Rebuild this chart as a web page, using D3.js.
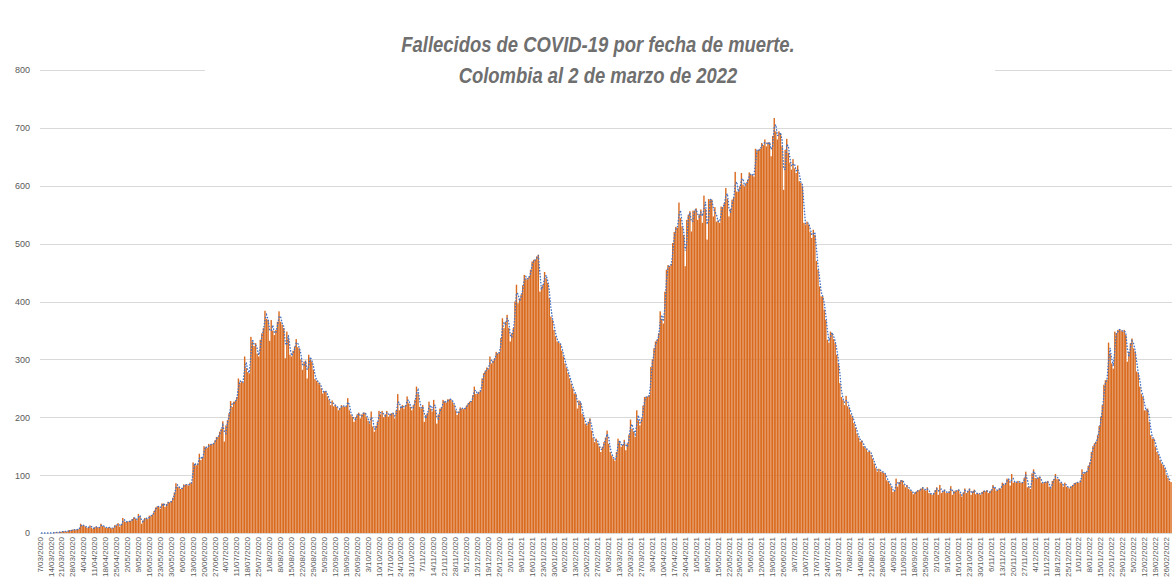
<!DOCTYPE html>
<html lang="es">
<head>
  <meta charset="UTF-8">
  <title>Fallecidos de COVID-19 por fecha de muerte</title>
  <script src="https://d3js.org/d3.v7.min.js"></script>
  <style>
    body { margin: 0; background: #fff; }
    svg { display: block; }
  </style>
</head>
<body>
  <svg id="chart" width="1172" height="580"></svg>

  <script>
    // fallecidos diarios por fecha de muerte, desde el 7/03/2020
    const startDate = new Date(2020, 2, 7);

    const deathsMarJun2020 = [
      0,0,0,0,0,0,0,0,0,1,1,1,1,2,2,3,
      3,2,4,5,4,6,5,6,6,7,
      16,13,13,11,9,10,13,9,7,10,
      11,10,9,16,12,11,9,9,10,9,
      8,9,14,13,17,11,14,26,20,19,
      20,20,21,24,27,25,22,33,28,16,
      22,26,25,24,30,29,32,38,44,46,
      46,42,51,51,45,50,54,53,55,61,
      70,86,80,79,76,78,84,83,84,82,
      87,86,122,119,117,120,137,126,130,150,
      148,147,154,152,154,154,160,166,166,175
    ];
    const deathsJulDec2020 = [
      180,193,158,186,195,207,228,218,227,228,
      235,267,259,262,260,305,285,278,276,339,
      330,323,328,310,305,334,345,354,384,370,
      368,332,368,350,342,351,365,383,365,360,
      354,302,348,335,308,305,315,322,335,321,
      319,300,282,296,298,267,308,300,296,282,
      266,263,260,257,250,241,245,244,236,230,
      221,229,219,222,218,212,216,221,219,218,
      219,233,212,205,201,192,200,205,208,198,
      205,208,208,200,194,189,210,184,175,185,
      192,211,205,211,200,205,211,201,205,207,
      207,198,212,240,212,218,221,215,221,236,
      224,218,212,221,230,253,241,218,215,221,
      192,204,207,227,215,210,230,212,189,205,
      215,217,230,227,225,231,231,231,226,222,
      212,204,210,217,215,214,216,220,224,227,
      228,238,253,240,241,244,247,267,276,280,
      286,283,305,293,298,302,313,310,313,337,
      371,354,365,377
    ];
    const deathsJanJun2021 = [
      354,331,345,354,400,429,397,405,412,428,
      446,440,438,443,455,469,472,472,478,481,
      417,425,429,451,440,432,406,374,368,351,
      340,331,329,327,315,305,293,285,276,267,
      258,250,241,240,215,229,225,206,200,189,
      186,192,198,177,165,157,163,155,149,140,
      149,157,165,177,154,140,134,128,125,140,
      163,157,149,152,161,143,155,170,196,180,
      175,166,212,195,186,198,220,235,235,236,
      238,287,300,319,331,334,345,383,370,362,
      417,455,463,461,465,501,520,529,527,571,
      544,530,515,461,541,550,556,521,557,557,
      561,541,550,559,536,583,560,507,577,576,
      576,547,563,538,540,536,564,563,570,596,
      577,547,560,576,579,624,590,590,599,622,
      602,599,605,610,623,619,619,616,664,660,
      662,664,674,670,680,668,675,675,651,686,
      717,694,680,694,690,668,593,662,681,657,
      640
    ];
    const deathsJulDec2021 = [
      628,646,630,622,635,608,605,599,536,533,
      538,533,520,510,524,515,470,455,426,409,
      409,386,368,334,329,348,345,335,328,308,
      293,259,235,230,221,237,219,215,205,200,
      190,182,172,165,158,160,150,148,145,140,
      142,135,128,120,112,106,111,106,106,104,
      102,91,89,85,79,71,73,94,80,88,
      91,91,84,79,83,76,74,72,67,70,
      72,74,74,77,79,75,73,79,69,68,
      66,69,74,79,66,83,69,72,75,69,
      69,72,81,66,73,72,74,75,68,63,
      70,77,69,73,77,66,72,75,67,69,
      68,66,71,73,72,74,69,72,74,83,
      78,73,74,77,77,87,83,86,94,93,
      82,102,87,88,87,90,87,87,87,95,
      106,79,80,76,103,110,95,94,96,97,
      87,86,88,88,90,80,77,90,93,102,
      93,93,87,86,80,87,80,79,77,81,
      82,86,87,88
    ];
    const deathsJanMar2022 = [
      87,91,110,102,105,106,116,122,140,150,
      155,158,169,185,201,221,256,264,265,329,
      310,293,284,348,345,351,352,350,348,351,
      342,296,313,328,336,319,313,279,276,253,
      240,235,212,212,215,192,169,163,163,149,
      140,135,126,120,117,112,100,95,90,88
    ];

    const yTicks = [0, 100, 200, 300, 400, 500, 600, 700, 800];
    const titleLines = [
      "Fallecidos de COVID-19 por fecha de muerte.",
      "Colombia al 2 de marzo de 2022"
    ];

    const deaths = [].concat(deathsMarJun2020, deathsJulDec2020,
      deathsJanJun2021, deathsJulDec2021, deathsJanMar2022);
    const dates = deaths.map((v, i) => d3.timeDay.offset(startDate, i));
    const n = deaths.length;

    const svgWidth = 1172;
    const plotLeft = 39.3;
    const dayWidth = 1.562;

    const svg = d3.select("#chart");
    svg.append("rect").attr("width", svgWidth).attr("height", 580).attr("fill", "#fff");

    const x = d3.scaleBand()
      .domain(d3.range(n))
      .range([plotLeft, plotLeft + n * dayWidth])
      .paddingInner(0.1);

    const y = d3.scaleLinear().domain([0, 800]).range([533, 70]);

    // lineas de cuadricula
    svg.append("g")
      .selectAll("line")
      .data(yTicks)
      .join("line")
      .attr("x1", 40)
      .attr("x2", svgWidth)
      .attr("y1", d => Math.round(y(d)) + 0.5)
      .attr("y2", d => Math.round(y(d)) + 0.5)
      .attr("stroke", "#d9d9d9")
      .attr("stroke-width", 1);

    // barras
    svg.append("g")
      .selectAll("rect")
      .data(deaths)
      .join("rect")
      .attr("x", (d, i) => x(i))
      .attr("y", d => y(d))
      .attr("width", x.bandwidth())
      .attr("height", d => y(0) - y(d))
      .attr("fill", "#d96a1e");

    // media movil de 2 periodos (linea punteada)
    const avg = deaths.slice(1).map((v, i) => ({ i: i + 1, v: (deaths[i] + v) / 2 }));
    const line = d3.line()
      .x(d => x(d.i) + x.bandwidth() / 2)
      .y(d => y(d.v));

    svg.append("path")
      .datum(avg)
      .attr("d", line)
      .attr("fill", "none")
      .attr("stroke", "#4472c4")
      .attr("stroke-width", 1.4)
      .attr("stroke-linecap", "round")
      .attr("stroke-dasharray", "0.4 2.6");

    // eje y
    const yAxis = svg.append("g")
      .attr("transform", "translate(40,0)")
      .call(d3.axisLeft(y).tickValues(yTicks).tickSize(0).tickPadding(10));
    yAxis.select(".domain").remove();
    yAxis.selectAll("text")
      .attr("fill", "#595959")
      .style("font-family", "'Liberation Sans', Arial, sans-serif")
      .style("font-size", "9px");

    // eje x: una etiqueta cada 7 dias
    const fmt = d3.timeFormat("%-d/%m/%Y");
    const xAxis = svg.append("g")
      .attr("transform", "translate(0,533)")
      .call(d3.axisBottom(x)
        .tickValues(d3.range(0, n, 7))
        .tickFormat(i => fmt(dates[i]))
        .tickSize(0));
    xAxis.select(".domain").remove();
    xAxis.selectAll("text")
      .attr("fill", "#595959")
      .style("font-family", "'Liberation Sans', Arial, sans-serif")
      .style("font-size", "8px")
      .attr("text-anchor", "end")
      .attr("transform", "rotate(-90)")
      .attr("x", -4)
      .attr("y", 0)
      .attr("dy", "0.32em");

    // titulo (Arial Narrow no esta: se estrecha Liberation Sans)
    svg.append("rect")
      .attr("x", 205).attr("y", 24)
      .attr("width", 790).attr("height", 68)
      .attr("fill", "#fff");

    svg.append("g")
      .selectAll("text")
      .data(titleLines)
      .join("text")
      .attr("transform", (d, i) => `translate(598,${52 + i * 31}) scale(0.82,1)`)
      .attr("text-anchor", "middle")
      .attr("fill", "#6f6f6f")
      .style("font-family", "'Liberation Sans', Arial, sans-serif")
      .style("font-weight", "bold")
      .style("font-style", "italic")
      .style("font-size", "22.5px")
      .text(d => d);
  </script>
</body>
</html>
